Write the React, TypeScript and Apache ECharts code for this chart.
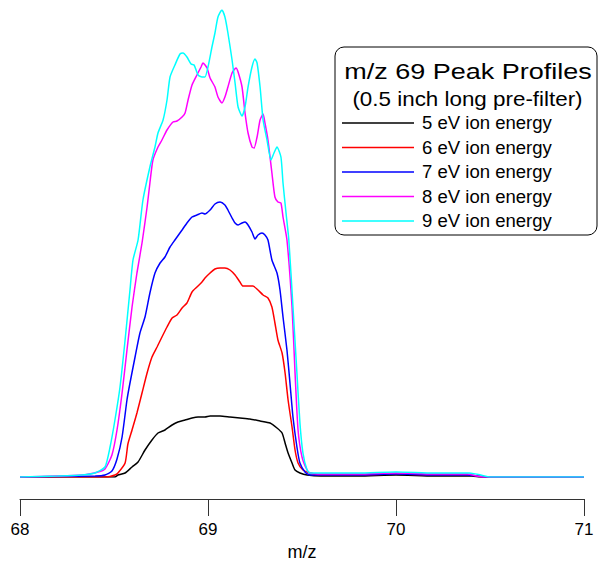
import React, { useEffect, useRef } from "react";
import * as echarts from "echarts";

const xTicks = [68, 69, 70, 71];
const seriesNames = ["5 eV ion energy", "6 eV ion energy", "7 eV ion energy", "8 eV ion energy", "9 eV ion energy"];
const seriesColors = ["#000000", "#ff0000", "#0000ff", "#ff00ff", "#00ffff"];
const titleText = "m/z 69 Peak Profiles";
const subtitleText = "(0.5 inch long pre-filter)";

const ev5: number[][] = [[68,0],[68.48,0],[68.505,0],[68.521,2],[68.559,4],[68.596,10],[68.628,15],[68.665,27],[68.702,37],[68.734,44],[68.771,47],[68.809,52],[68.84,55],[68.878,57],[68.915,59],[68.947,60],[68.984,60],[69.011,61],[69.064,61],[69.117,60],[69.17,59],[69.223,58],[69.277,56],[69.33,54],[69.367,49],[69.394,44],[69.41,34],[69.426,24],[69.447,14],[69.463,7],[69.489,4],[69.527,2],[69.6,1],[69.8,1],[70.0,2],[70.2,1],[70.4,1],[70.45,0],[71,0]];

const ev6: number[][] = [[68,0],[68.46,0],[68.505,2],[68.521,4],[68.559,14],[68.574,33],[68.596,47],[68.622,64],[68.649,84],[68.676,104],[68.702,120],[68.729,130],[68.755,140],[68.782,150],[68.809,159],[68.835,162],[68.862,169],[68.888,174],[68.915,185],[68.941,190],[68.968,195],[68.984,199],[69.011,204],[69.037,208],[69.064,209],[69.09,209],[69.117,207],[69.144,202],[69.17,195],[69.186,191],[69.213,191],[69.239,191],[69.266,187],[69.293,182],[69.319,179],[69.34,170],[69.356,154],[69.372,137],[69.394,124],[69.41,104],[69.426,77],[69.447,50],[69.463,27],[69.479,14],[69.505,7],[69.543,4],[69.6,2],[69.8,2],[70.0,3],[70.2,2],[70.38,2],[70.43,1],[70.47,0],[71,0]];

const ev7: number[][] = [[68,0],[68.4,1],[68.452,2],[68.489,6],[68.516,18],[68.543,40],[68.569,77],[68.585,94],[68.612,120],[68.638,144],[68.665,160],[68.691,184],[68.718,204],[68.745,214],[68.771,220],[68.798,230],[68.824,237],[68.862,247],[68.888,254],[68.915,260],[68.941,262],[68.968,264],[68.984,263],[69.011,267],[69.037,273],[69.064,275],[69.09,272],[69.106,267],[69.128,259],[69.144,254],[69.16,252],[69.181,254],[69.197,255],[69.213,252],[69.234,245],[69.25,238],[69.266,242],[69.287,244],[69.303,242],[69.319,237],[69.34,217],[69.367,204],[69.383,187],[69.399,160],[69.42,127],[69.436,94],[69.452,60],[69.473,30],[69.489,14],[69.516,5],[69.543,2],[69.6,2],[69.8,2],[70.0,3],[70.2,2],[70.38,2],[70.43,1],[70.47,0],[71,0]];

const ev8: number[][] = [[68,0],[68.33,2],[68.415,5],[68.452,8],[68.489,22],[68.516,47],[68.543,84],[68.569,127],[68.596,170],[68.622,204],[68.649,234],[68.676,270],[68.691,294],[68.707,317],[68.734,330],[68.755,337],[68.782,347],[68.814,355],[68.835,356],[68.862,360],[68.878,364],[68.894,377],[68.915,392],[68.941,402],[68.963,410],[68.973,414],[68.995,409],[69.011,399],[69.037,390],[69.053,380],[69.074,374],[69.09,380],[69.106,390],[69.128,404],[69.149,409],[69.16,405],[69.181,390],[69.197,364],[69.213,344],[69.234,330],[69.245,329],[69.261,340],[69.277,357],[69.293,363],[69.303,354],[69.319,337],[69.34,304],[69.356,280],[69.372,275],[69.388,274],[69.399,260],[69.42,237],[69.447,170],[69.463,104],[69.479,47],[69.5,20],[69.527,7],[69.543,4],[69.6,3],[69.8,3],[70.0,4],[70.2,3],[70.38,3],[70.43,1],[70.47,0],[71,0]];

const ev9: number[][] = [[68,0],[68.2,1],[68.33,2],[68.399,4],[68.452,10],[68.479,30],[68.505,57],[68.532,90],[68.559,137],[68.585,187],[68.601,217],[68.628,237],[68.654,277],[68.691,310],[68.718,330],[68.734,344],[68.761,357],[68.782,377],[68.798,400],[68.824,412],[68.851,423],[68.867,424],[68.888,420],[68.91,413],[68.926,412],[68.947,402],[68.968,400],[68.984,400],[69.0,410],[69.021,430],[69.037,444],[69.053,460],[69.074,467],[69.09,460],[69.106,444],[69.128,417],[69.144,394],[69.16,370],[69.181,361],[69.197,370],[69.213,390],[69.234,410],[69.25,418],[69.261,414],[69.277,390],[69.293,357],[69.314,337],[69.335,317],[69.351,324],[69.367,330],[69.388,320],[69.399,294],[69.415,264],[69.43,237],[69.452,170],[69.473,104],[69.489,54],[69.505,24],[69.527,7],[69.543,4],[69.6,4],[69.8,4],[70.0,5],[70.2,4],[70.39,4],[70.45,2],[70.5,0],[71,0]];

const seriesData = [ev5, ev6, ev7, ev8, ev9];

const FONT = "Liberation Sans, Arial, sans-serif";

export default function App() {
  const ref = useRef<HTMLDivElement>(null);
  useEffect(() => {
    if (!ref.current) return;
    const chart = echarts.init(ref.current, undefined, { renderer: "svg" });
    const legendRowsY = [123, 147.5, 172, 196.5, 221];
    const legendGraphics: any[] = [];
    seriesNames.forEach((name, i) => {
      legendGraphics.push({
        type: "line",
        shape: { x1: 342, y1: legendRowsY[i], x2: 414, y2: legendRowsY[i] },
        style: { stroke: seriesColors[i], lineWidth: 1.5 },
        silent: true,
      });
      legendGraphics.push({
        type: "text",
        x: 422,
        y: legendRowsY[i],
        scaleX: 1.03,
        style: { text: name, font: `18px ${FONT}`, fill: "#000", textAlign: "left", textVerticalAlign: "middle" },
        silent: true,
      });
    });
    chart.setOption({
      animation: false,
      backgroundColor: "#ffffff",
      grid: { left: 20, right: 15, top: 10, bottom: 84, containLabel: false, outerBoundsMode: "none" },
      xAxis: {
        type: "value",
        min: xTicks[0],
        max: xTicks[xTicks.length - 1],
        interval: 1,
        offset: 22,
        name: "m/z",
        nameLocation: "middle",
        nameGap: 40,
        nameTextStyle: { fontFamily: FONT, fontSize: 18, color: "#000" },
        axisLine: { onZero: false, lineStyle: { color: "#333", width: 1 } },
        axisTick: { show: true, length: 17, lineStyle: { color: "#333" } },
        axisLabel: { fontFamily: FONT, fontSize: 17, color: "#000", margin: 22 },
        splitLine: { show: false },
      },
      yAxis: { type: "value", min: 0, max: 467, show: false },
      graphic: [
        { type: "rect", shape: { x: 335, y: 47, width: 262, height: 188, r: 9 }, style: { fill: "#fff", stroke: "#000", lineWidth: 1 }, z: -1, silent: true },
        { type: "text", x: 468, y: 71, scaleX: 1.2, style: { text: titleText, font: `22.5px ${FONT}`, fill: "#000", textAlign: "center", textVerticalAlign: "middle" } },
        { type: "text", x: 467.5, y: 99, scaleX: 1.12, style: { text: subtitleText, font: `20px ${FONT}`, fill: "#000", textAlign: "center", textVerticalAlign: "middle" } },
        ...legendGraphics,
      ],
      series: seriesData.map((d, i) => ({
        name: seriesNames[i],
        type: "line",
        data: d,
        showSymbol: false,
        symbol: "none",
        smooth: 0.2,
        lineStyle: { color: seriesColors[i], width: 1.5 },
        itemStyle: { color: seriesColors[i] },
      })),
    });
    return () => chart.dispose();
  }, []);
  return <div ref={ref} style={{ width: 599, height: 561, position: "absolute", left: 0, top: 0 }} />;
}
